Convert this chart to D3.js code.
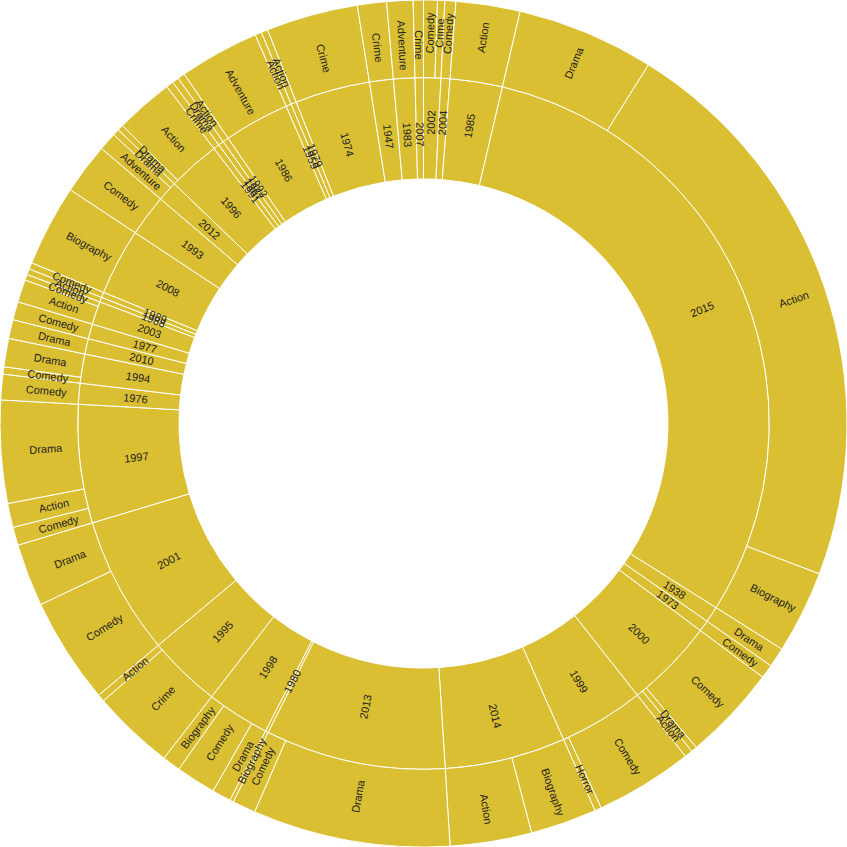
<!DOCTYPE html>
<html><head><meta charset="utf-8">
<script src="https://cdn.jsdelivr.net/npm/d3@7"></script>
<style>body{margin:0;background:#fff}svg{display:block}</style>
</head><body><svg id="chart" width="847" height="847"></svg>
<script>
const years = ["2002","2004","1985","2015","1938","1973","2000","1999","2014","2013","1980","1998","1995","2001","1997","1976","1994","2010","1977","2003","1988","1989","2008","1993","2012","1996","1991","1967","1992","1986","1959","1979","1974","1947","1983","2007"];
const genres = [
 ["Comedy","Crime"],["Comedy"],["Action"],["Drama","Action","Biography"],["Drama"],["Comedy"],
 ["Comedy","Drama","Action"],["Comedy","Horror"],["Biography","Action"],["Drama","Comedy"],["Biography"],
 ["Drama","Comedy","Biography"],["Crime","Action"],["Comedy","Drama"],["Comedy","Action","Drama"],["Comedy"],
 ["Comedy","Drama"],["Drama"],["Comedy"],["Action","Comedy"],["Action"],["Comedy"],["Biography"],["Comedy"],
 ["Adventure","Drama"],["Drama","Action"],["Crime"],["Drama"],["Action"],["Adventure"],["Action"],["Action"],
 ["Crime"],["Crime"],["Adventure"],["Crime"]
];
const values = [
 [1.9,1.0],[1.5],[8.8],[18.9,78.7,11.4],[2.7],[1.9],
 [13.1,0.8,1.1],[13.4,0.9],[9.1,11.2],[27.1,3.2],[0.5],
 [2.6,5.5,2.5],[11.3,1.0],[14.6,8.6],[2.5,3.3,14.1],[3.5],
 [1.0,3.9],[2.6],[2.5],[3.1,0.8],[0.8],[0.9],[11.2],[7.0],
 [2.5,0.9],[0.8,8.0],[1.0],[0.9],[1.0],[11.0],[0.9],[0.9],
 [12.6],[4.0],[3.6],[1.4]
];

const width = 847, height = 847, radius = Math.min(width, height) / 2;
const fillColor = "#dbbf32";

const data = {name: "root", children: years.map((y, i) => ({
  name: y, children: genres[i].map((g, j) => ({name: g, value: values[i][j]}))
}))};

const root = d3.hierarchy(data).sum(d => d.value || 0);
d3.partition().size([1, 1])(root);

const x = d3.scaleLinear().domain([0, 1]).range([0, 2 * Math.PI]);
const y = d3.scaleSqrt().domain([0, 1]).range([0, radius]);

const arc = d3.arc()
  .startAngle(d => x(d.x0))
  .endAngle(d => x(d.x1))
  .innerRadius(d => y(d.y0))
  .outerRadius(d => y(d.y1));

const svg = d3.select("#chart");
const g = svg.append("g").attr("transform", `translate(${width / 2},${height / 2})`);

const nodes = root.descendants().filter(d => d.depth > 0);

g.selectAll("path").data(nodes).join("path")
  .attr("d", arc)
  .attr("fill", fillColor)
  .attr("stroke", "#fff")
  .attr("stroke-width", 1);

g.selectAll("text").data(nodes).join("text")
  .attr("transform", d => {
    const a = x((d.x0 + d.x1) / 2) * 180 / Math.PI;
    const r = (y(d.y0) + y(d.y1)) / 2;
    return `rotate(${a - 90}) translate(${r},0) rotate(${a < 180 ? 0 : 180})`;
  })
  .attr("text-anchor", "middle")
  .attr("dx", 6)
  .attr("dy", "0.35em")
  .attr("font-family", "'Liberation Sans', Arial, sans-serif")
  .attr("font-size", 11)
  .attr("fill", "#222")
  .text(d => d.data.name);
</script></body></html>
